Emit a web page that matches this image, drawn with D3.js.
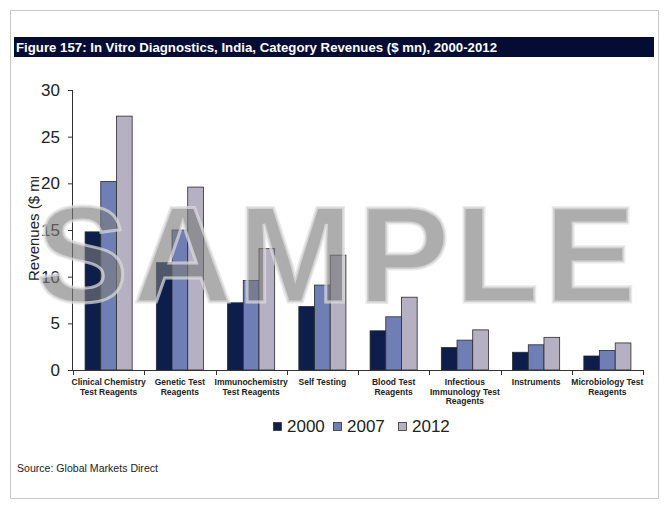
<!DOCTYPE html>
<html>
<head>
<meta charset="utf-8">
<script src="https://cdn.jsdelivr.net/npm/d3@7"></script>
<style>
  html, body { margin: 0; padding: 0; background: #fff; }
  svg { display: block; }
</style>
</head>
<body>
<svg id="chart" width="670" height="510"></svg>
<script>
const title = "Figure 157: In Vitro Diagnostics, India, Category Revenues ($ mn), 2000-2012";
const categories = ["Clinical Chemistry Test Reagents", "Genetic Test Reagents", "Immunochemistry Test Reagents", "Self Testing", "Blood Test Reagents", "Infectious Immunology Test Reagents", "Instruments", "Microbiology Test Reagents"];
const categoryLabels = [["Clinical Chemistry", "Test Reagents"], ["Genetic Test", "Reagents"], ["Immunochemistry", "Test Reagents"], ["Self Testing"], ["Blood Test", "Reagents"], ["Infectious", "Immunology Test", "Reagents"], ["Instruments"], ["Microbiology Test", "Reagents"]];
const years = ["2000", "2007", "2012"];
const values2000 = [14.8, 11.5, 7.2, 6.8, 4.2, 2.4, 1.9, 1.5];
const values2007 = [20.2, 15.0, 9.6, 9.1, 5.7, 3.2, 2.7, 2.1];
const values2012 = [27.2, 19.6, 13.0, 12.3, 7.8, 4.3, 3.5, 2.9];
const yTicks = [0, 5, 10, 15, 20, 25, 30];
const yLabel = "Revenues ($ mn)";
const source = "Source: Global Markets Direct";
const colors = ["#0d1d4c", "#6f7fb5", "#b5b0c2"];

const series = [values2000, values2007, values2012];
const svg = d3.select("#chart");

// outer frame
svg.append("rect").attr("x", 10.5).attr("y", 10.5).attr("width", 648).attr("height", 488)
  .attr("fill", "#fff").attr("stroke", "#c8c8c8").attr("stroke-width", 1);

// title bar
svg.append("rect").attr("x", 14).attr("y", 37).attr("width", 640).attr("height", 20).attr("fill", "#050c33");
svg.append("text").attr("x", 16).attr("y", 52).text(title)
  .attr("font-family", "Liberation Sans, Arial, sans-serif").attr("font-weight", "bold")
  .attr("font-size", 13).attr("fill", "#fff")
  .attr("textLength", 481).attr("lengthAdjust", "spacingAndGlyphs");

const x0 = d3.scaleBand().domain(categories).range([73, 643]).padding(0);
const x1 = d3.scaleBand().domain(years).range([0, x0.bandwidth()]).paddingInner(0).paddingOuter(0.77);
const y = d3.scaleLinear().domain([0, 30]).range([370, 90]);

// y label (clipped like the reference)
svg.append("clipPath").attr("id", "ylabclip")
  .append("rect").attr("x", 15).attr("y", 177).attr("width", 40).attr("height", 120);
svg.append("g").attr("clip-path", "url(#ylabclip)")
  .append("text")
  .attr("transform", "translate(39,281) rotate(-90)")
  .attr("font-family", "Liberation Sans, Arial, sans-serif")
  .attr("font-size", 15).attr("fill", "#222")
  .text(yLabel);

// bars
const g = svg.append("g");
categories.forEach((c, i) => {
  years.forEach((yr, j) => {
    const v = series[j][i];
    g.append("rect")
      .attr("x", x0(c) + x1(yr))
      .attr("y", y(v))
      .attr("width", x1.bandwidth())
      .attr("height", y(0) - y(v))
      .attr("fill", colors[j])
      .attr("stroke", "#2a2a2a")
      .attr("stroke-width", 0.8);
  });
});

// y axis
const yAxis = d3.axisLeft(y).tickValues(yTicks).tickSize(5).tickPadding(8).tickFormat(d3.format("d"));
const ya = svg.append("g").attr("transform", "translate(73,0)").call(yAxis);
ya.select(".domain").attr("stroke", "#333").attr("d", "M-0.5,90V370.5");
ya.selectAll(".tick line").attr("stroke", "#333");
ya.selectAll("text").attr("font-family", "Liberation Sans, Arial, sans-serif").attr("font-size", 17).attr("fill", "#222");

// x axis
svg.append("line").attr("x1", 72.5).attr("x2", 643).attr("y1", 370.5).attr("y2", 370.5).attr("stroke", "#333");
const bounds = categories.map(c => x0(c)).concat([x0.range()[1]]);
svg.selectAll(".xt").data(bounds).enter().append("line")
  .attr("x1", d => Math.round(d) + 0.5).attr("x2", d => Math.round(d) + 0.5)
  .attr("y1", 370).attr("y2", 375).attr("stroke", "#333");

// category labels
categories.forEach((c, i) => {
  const t = svg.append("text")
    .attr("x", x0(c) + x0.bandwidth() / 2)
    .attr("y", 385)
    .attr("text-anchor", "middle")
    .attr("font-family", "Liberation Sans, Arial, sans-serif")
    .attr("font-weight", "bold")
    .attr("font-size", 8.5)
    .attr("fill", "#222");
  categoryLabels[i].forEach((ln, k) => {
    t.append("tspan").attr("x", x0(c) + x0.bandwidth() / 2).attr("dy", k === 0 ? 0 : 9.5).text(ln);
  });
});

// legend
const legX = [273, 333, 398];
years.forEach((yr, j) => {
  svg.append("rect").attr("x", legX[j] + 0.5).attr("y", 422.5).attr("width", 8).attr("height", 8)
    .attr("fill", colors[j]).attr("stroke", "#333").attr("stroke-width", 0.8);
  svg.append("text").attr("x", legX[j] + 14).attr("y", 432).text(yr)
    .attr("font-family", "Liberation Sans, Arial, sans-serif").attr("font-size", 17).attr("fill", "#222");
});

// source
svg.append("text").attr("x", 17).attr("y", 472).text(source)
  .attr("font-family", "Liberation Sans, Arial, sans-serif").attr("font-size", 11.5).attr("fill", "#222")
  .attr("textLength", 141).attr("lengthAdjust", "spacingAndGlyphs");

// watermark
svg.append("text").attr("x", 36).attr("y", 302).text("SAMPLE")
  .attr("font-family", "Liberation Sans, Arial, sans-serif").attr("font-weight", "bold")
  .attr("font-size", 138)
  .attr("fill", "#7a7a7a").attr("fill-opacity", 0.62)
  .attr("stroke", "#e0e0e0").attr("stroke-opacity", 0.7).attr("stroke-width", 3)
  .attr("textLength", 600).attr("lengthAdjust", "spacing");
</script>
</body>
</html>
